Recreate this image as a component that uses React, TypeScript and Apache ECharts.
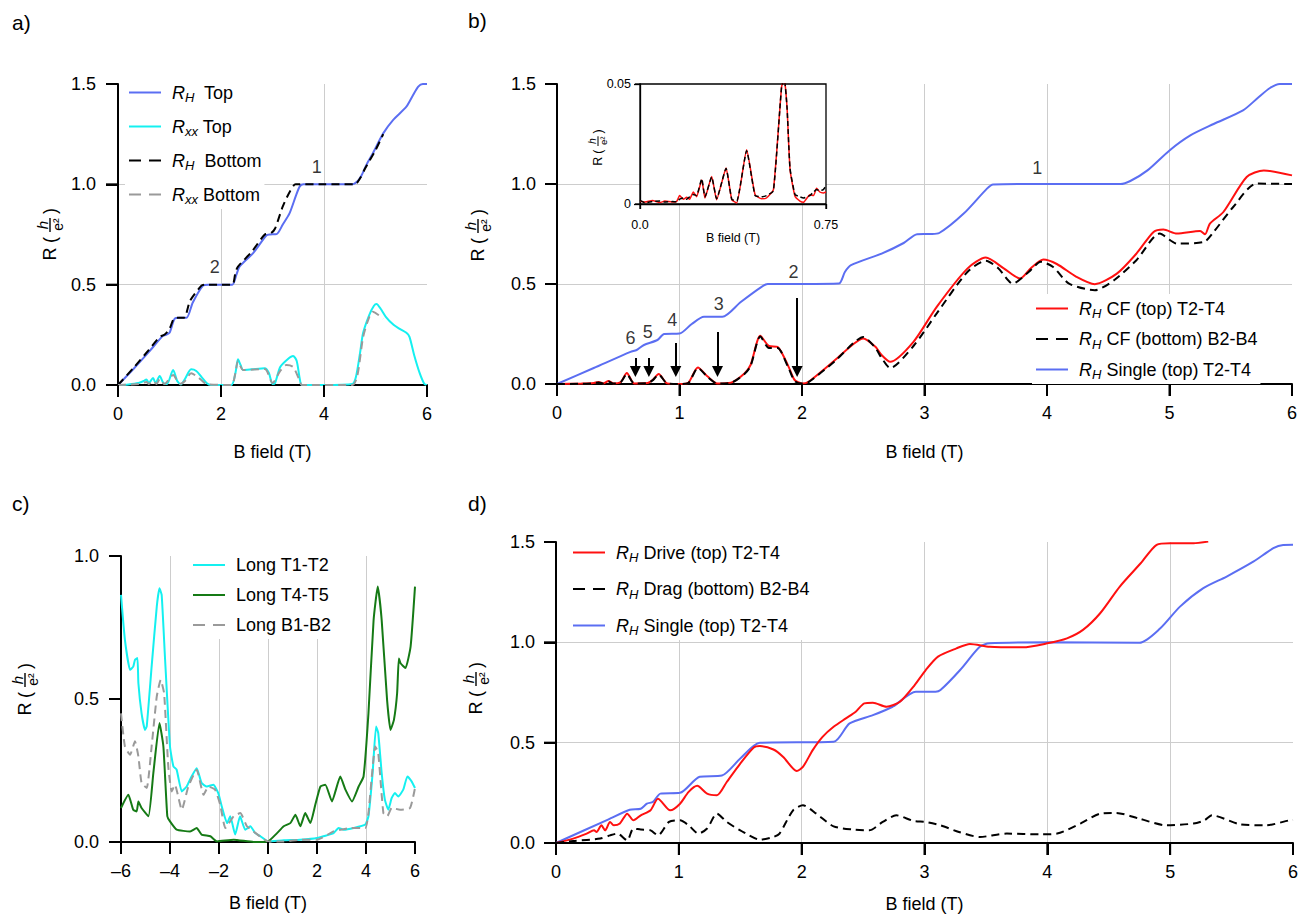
import React, { useEffect, useRef } from 'react';
import * as echarts from 'echarts';

const FONT = "'Liberation Sans', Arial, Helvetica, sans-serif";
const BLUE = '#5b6ef2';
const CYAN = '#14f0f0';
const RED = '#ff1010';
const GREEN = '#157a15';
const GRAY = '#9a9a9a';
const BLACK = '#000000';

// ---------- Panel a ----------
const aRhTop: number[][] = [[0,0],[0.3,0.08],[0.6,0.165],[0.87,0.245],[0.93,0.25],[1.0,0.26],[1.1,0.33],[1.2,0.335],[1.33,0.335],[1.45,0.41],[1.65,0.495],[1.75,0.5],[2.0,0.5],[2.22,0.5],[2.3,0.55],[2.36,0.59],[2.62,0.656],[2.88,0.745],[2.95,0.75],[3.08,0.752],[3.2,0.8],[3.33,0.855],[3.45,0.94],[3.53,0.99],[3.6,1.0],[4.0,1.0],[4.55,1.0],[4.65,1.015],[4.72,1.04],[4.83,1.1],[4.95,1.155],[5.15,1.254],[5.34,1.32],[5.6,1.387],[5.72,1.44],[5.83,1.487],[5.92,1.5],[6,1.5]];
const aRhBot: number[][] = [[0,0],[0.3,0.085],[0.6,0.175],[0.81,0.24],[0.9,0.25],[1.0,0.28],[1.07,0.324],[1.12,0.335],[1.28,0.335],[1.4,0.42],[1.62,0.495],[1.7,0.5],[2.0,0.5],[2.22,0.5],[2.28,0.56],[2.33,0.59],[2.6,0.665],[2.85,0.75],[2.97,0.757],[3.05,0.78],[3.2,0.89],[3.35,0.97],[3.45,1.0],[4.0,1.0],[4.6,1.0],[4.7,1.03],[4.8,1.08],[5.0,1.17],[5.15,1.25]];
const aRxxTop: number[][] = [[0,0],[0.2,0.003],[0.4,0.01],[0.5,0.02],[0.55,0.028],[0.6,0.01],[0.68,0.035],[0.73,0.01],[0.81,0.045],[0.88,0.01],[0.95,0.005],[1.07,0.075],[1.15,0.02],[1.22,0.003],[1.3,0.03],[1.42,0.078],[1.52,0.07],[1.62,0.04],[1.72,0.01],[1.8,0],[2.2,0],[2.28,0.06],[2.33,0.128],[2.38,0.1],[2.43,0.075],[2.6,0.078],[2.85,0.083],[2.93,0.06],[3.0,0.005],[3.05,0.01],[3.15,0.09],[3.3,0.13],[3.4,0.145],[3.47,0.12],[3.53,0.03],[3.57,0],[4.0,0],[4.55,0.005],[4.62,0.04],[4.7,0.16],[4.76,0.26],[4.88,0.35],[4.97,0.395],[5.02,0.404],[5.1,0.38],[5.2,0.34],[5.35,0.3],[5.47,0.28],[5.6,0.26],[5.66,0.24],[5.75,0.15],[5.86,0.058],[5.95,0.005],[6,0]];
const aRxxBot: number[][] = [[0,0],[0.4,0.005],[0.55,0.015],[0.6,0.005],[0.68,0.02],[0.75,0.005],[0.81,0.03],[0.9,0.005],[1.07,0.05],[1.2,0.005],[1.3,0.02],[1.42,0.058],[1.55,0.04],[1.72,0.005],[2.2,0],[2.28,0.06],[2.33,0.12],[2.43,0.075],[2.85,0.08],[3.0,0.01],[3.15,0.07],[3.27,0.1],[3.4,0.09],[3.53,0.02],[3.57,0],[4.55,0],[4.65,0.05],[4.76,0.24],[4.88,0.34],[4.95,0.365],[5.05,0.35],[5.15,0.33]];
const aNumbers: (number | string)[][] = [[3.86,1.086,'1'],[1.88,0.588,'2']];

// ---------- Panel b ----------
const bSingle: number[][] = [[0,0],[0.3,0.08],[0.6,0.161],[0.65,0.17],[0.71,0.195],[0.82,0.22],[0.875,0.25],[1.0,0.252],[1.1,0.3],[1.2,0.336],[1.35,0.336],[1.5,0.41],[1.67,0.486],[1.72,0.5],[2.0,0.5],[2.3,0.502],[2.35,0.56],[2.4,0.594],[2.65,0.652],[2.83,0.705],[2.94,0.749],[3.05,0.75],[3.12,0.755],[3.32,0.852],[3.51,0.977],[3.56,0.998],[4.0,1.0],[4.6,1.0],[4.68,1.015],[4.82,1.068],[5.0,1.168],[5.17,1.243],[5.36,1.3],[5.6,1.368],[5.72,1.43],[5.82,1.48],[5.9,1.5],[6,1.5]];
const bCfTop: number[][] = [[0,0],[0.2,0.002],[0.3,0.005],[0.34,0.01],[0.38,0.003],[0.42,0.015],[0.46,0.003],[0.52,0.01],[0.57,0.055],[0.63,0.003],[0.74,0.005],[0.78,0.02],[0.83,0.05],[0.9,0.003],[1.0,0.0],[1.07,0.005],[1.15,0.083],[1.23,0.037],[1.31,0.003],[1.42,0.007],[1.53,0.053],[1.58,0.095],[1.66,0.241],[1.73,0.19],[1.8,0.186],[1.89,0.087],[1.94,0.02],[2.0,0.003],[2.05,0.01],[2.27,0.12],[2.42,0.2],[2.5,0.228],[2.6,0.186],[2.65,0.145],[2.72,0.111],[2.91,0.211],[3.1,0.386],[3.35,0.577],[3.5,0.632],[3.65,0.577],[3.78,0.527],[3.87,0.58],[3.97,0.622],[4.08,0.6],[4.24,0.536],[4.39,0.499],[4.57,0.552],[4.73,0.652],[4.87,0.76],[4.95,0.772],[5.06,0.752],[5.25,0.765],[5.29,0.749],[5.33,0.802],[5.44,0.86],[5.63,1.035],[5.77,1.068],[6,1.043]];
const bCfBot: number[][] = [[0,0],[0.2,0.001],[0.3,0.004],[0.34,0.008],[0.38,0.002],[0.42,0.012],[0.46,0.002],[0.52,0.008],[0.57,0.05],[0.63,0.003],[0.74,0.004],[0.78,0.018],[0.83,0.047],[0.9,0.003],[1.0,0.0],[1.07,0.004],[1.15,0.08],[1.23,0.035],[1.31,0.002],[1.42,0.006],[1.53,0.05],[1.58,0.09],[1.66,0.238],[1.73,0.18],[1.8,0.18],[1.89,0.08],[1.94,0.015],[2.0,0.002],[2.05,0.008],[2.27,0.115],[2.42,0.205],[2.5,0.235],[2.6,0.18],[2.65,0.13],[2.72,0.08],[2.91,0.19],[3.1,0.353],[3.35,0.56],[3.5,0.616],[3.6,0.58],[3.72,0.502],[3.85,0.56],[3.95,0.611],[4.05,0.585],[4.18,0.502],[4.39,0.469],[4.55,0.52],[4.73,0.619],[4.92,0.752],[5.06,0.702],[5.28,0.71],[5.36,0.76],[5.52,0.885],[5.71,1.002],[6,1.0]];
const bNumbers: (number | string)[][] = [[3.92,1.08,'1'],[1.93,0.56,'2'],[1.32,0.4,'3'],[0.94,0.32,'4'],[0.74,0.26,'5'],[0.6,0.23,'6']];
// arrows: [x, yStart, yEnd]
const bArrows: number[][] = [[0.64,0.13,0.062],[0.75,0.13,0.062],[0.97,0.205,0.062],[1.31,0.26,0.062],[1.96,0.43,0.062]];

// ---------- Inset (b) ----------
const insRed: number[][] = [[0,0.0011],[0.02,0.0008],[0.05,0.0015],[0.08,0.0006],[0.1,0.0012],[0.13,0.0008],[0.148,0.0011],[0.16,0.0035],[0.175,0.002],[0.188,0.0028],[0.2,0.002],[0.215,0.005],[0.228,0.003],[0.249,0.01],[0.262,0.0025],[0.289,0.0115],[0.309,0.0018],[0.347,0.015],[0.37,0.0018],[0.39,0.0004],[0.43,0.0226],[0.464,0.0039],[0.49,0.0022],[0.51,0.0025],[0.538,0.006],[0.571,0.0489],[0.582,0.052],[0.593,0.04],[0.605,0.0143],[0.625,0.0032],[0.645,0.0012],[0.659,0.0007],[0.685,0.0039],[0.7,0.0035],[0.712,0.0066],[0.725,0.005],[0.739,0.0046],[0.75,0.005]];
const insBlack: number[][] = [[0,0.0015],[0.02,0.0005],[0.05,0.001],[0.08,0.0012],[0.1,0.0008],[0.13,0.001],[0.148,0.0009],[0.16,0.002],[0.175,0.0025],[0.188,0.002],[0.2,0.003],[0.215,0.004],[0.228,0.0035],[0.249,0.0105],[0.262,0.003],[0.289,0.0112],[0.309,0.0022],[0.347,0.0148],[0.37,0.002],[0.39,0.0012],[0.43,0.0222],[0.464,0.0035],[0.49,0.003],[0.51,0.0035],[0.538,0.0055],[0.571,0.049],[0.582,0.052],[0.593,0.04],[0.605,0.0148],[0.625,0.004],[0.645,0.003],[0.659,0.0025],[0.685,0.0035],[0.7,0.005],[0.712,0.006],[0.725,0.0055],[0.739,0.006],[0.75,0.0075]];

// ---------- Panel c ----------
const cT1T2: number[][] = [[-6,0.864],[-5.84,0.707],[-5.63,0.602],[-5.5,0.613],[-5.43,0.637],[-5.33,0.643],[-5.29,0.555],[-5.16,0.45],[-5.02,0.392],[-4.95,0.404],[-4.75,0.613],[-4.54,0.823],[-4.43,0.887],[-4.34,0.864],[-4.2,0.637],[-4,0.334],[-3.86,0.264],[-3.73,0.253],[-3.52,0.177],[-3.32,0.194],[-3.12,0.229],[-2.91,0.258],[-2.71,0.206],[-2.5,0.194],[-2.23,0.2],[-2.03,0.171],[-1.89,0.125],[-1.67,0.066],[-1.54,0.09],[-1.34,0.026],[-1.14,0.09],[-0.93,0.043],[-0.72,0.055],[-0.52,0.031],[-0.31,0.02],[0,0.002],[0.64,0.006],[1.32,0.008],[2,0.014],[2.68,0.031],[2.88,0.049],[3.09,0.043],[3.5,0.049],[3.97,0.061],[4.1,0.09],[4.27,0.241],[4.41,0.404],[4.5,0.381],[4.64,0.241],[4.77,0.148],[4.91,0.113],[5.05,0.154],[5.18,0.171],[5.32,0.159],[5.52,0.183],[5.69,0.229],[5.86,0.212],[6,0.189]];
const cT4T5: number[][] = [[-6,0.119],[-5.7,0.165],[-5.5,0.113],[-5.36,0.107],[-5.29,0.142],[-5.16,0.119],[-4.88,0.09],[-4.68,0.241],[-4.43,0.416],[-4.27,0.334],[-4.11,0.09],[-4,0.072],[-3.73,0.043],[-3.18,0.037],[-2.91,0.049],[-2.71,0.026],[-2.35,0.02],[-2.08,0.002],[-1.4,0.008],[-0.59,0],[0,0.002],[0.37,0.031],[0.64,0.055],[0.91,0.066],[1.12,0.095],[1.32,0.055],[1.52,0.101],[1.73,0.066],[1.93,0.13],[2.14,0.194],[2.34,0.2],[2.61,0.142],[2.95,0.229],[3.16,0.183],[3.43,0.142],[3.7,0.194],[3.9,0.229],[4.1,0.45],[4.31,0.776],[4.48,0.893],[4.64,0.776],[4.86,0.497],[5.0,0.392],[5.14,0.427],[5.27,0.52],[5.34,0.642],[5.41,0.625],[5.61,0.608],[5.82,0.683],[6,0.893]];
const cB1B2: number[][] = [[-6,0.45],[-5.84,0.334],[-5.63,0.305],[-5.43,0.352],[-5.29,0.299],[-5.16,0.206],[-4.95,0.189],[-4.75,0.334],[-4.54,0.509],[-4.38,0.567],[-4.24,0.52],[-4.07,0.264],[-3.93,0.177],[-3.8,0.2],[-3.52,0.113],[-3.25,0.194],[-2.91,0.253],[-2.63,0.165],[-2.43,0.194],[-2.16,0.183],[-1.95,0.13],[-1.74,0.049],[-1.4,0.09],[-1.13,0.101],[-0.86,0.055],[-0.59,0.037],[0,0.002],[0.64,0.002],[1.32,0.008],[2,0.008],[2.68,0.037],[3.36,0.049],[3.97,0.049],[4.1,0.101],[4.38,0.334],[4.5,0.311],[4.71,0.101],[4.87,0.09],[5.05,0.119],[5.39,0.113],[5.8,0.119],[6,0.189]];

// ---------- Panel d ----------
const dDrive: number[][] = [[0,0],[0.14,0.022],[0.25,0.047],[0.31,0.063],[0.33,0.055],[0.37,0.088],[0.4,0.063],[0.44,0.105],[0.47,0.088],[0.52,0.097],[0.58,0.146],[0.63,0.113],[0.69,0.138],[0.77,0.163],[0.83,0.221],[0.93,0.163],[1.01,0.196],[1.08,0.255],[1.15,0.285],[1.23,0.246],[1.31,0.238],[1.39,0.304],[1.5,0.396],[1.61,0.476],[1.66,0.483],[1.77,0.466],[1.85,0.429],[1.96,0.359],[2.01,0.379],[2.09,0.463],[2.17,0.529],[2.26,0.579],[2.36,0.621],[2.44,0.654],[2.51,0.696],[2.58,0.699],[2.69,0.679],[2.8,0.704],[2.92,0.787],[3.01,0.862],[3.11,0.929],[3.26,0.97],[3.37,0.992],[3.53,0.978],[3.8,0.975],[4,0.995],[4.16,1.02],[4.29,1.062],[4.43,1.145],[4.59,1.278],[4.76,1.394],[4.89,1.486],[5.0,1.494],[5.19,1.494],[5.31,1.502]];
const dDrag: number[][] = [[0,0],[0.14,0.01],[0.36,0.022],[0.44,0.038],[0.5,0.047],[0.58,0.013],[0.63,0.072],[0.69,0.067],[0.77,0.063],[0.83,0.038],[0.92,0.105],[1.01,0.113],[1.08,0.088],[1.16,0.047],[1.23,0.072],[1.31,0.146],[1.39,0.105],[1.5,0.063],[1.66,0.017],[1.77,0.03],[1.82,0.047],[1.93,0.163],[2.01,0.188],[2.12,0.146],[2.26,0.083],[2.42,0.067],[2.55,0.063],[2.66,0.105],[2.77,0.138],[2.91,0.11],[3.01,0.105],[3.13,0.088],[3.28,0.055],[3.45,0.03],[3.67,0.047],[3.94,0.043],[4.08,0.047],[4.27,0.097],[4.43,0.146],[4.56,0.15],[4.75,0.121],[4.97,0.088],[5.19,0.097],[5.28,0.113],[5.34,0.138],[5.57,0.093],[5.78,0.088],[5.97,0.113],[6,0.115]];
const dSingle: number[][] = [[0,0],[0.41,0.113],[0.6,0.166],[0.69,0.171],[0.74,0.196],[0.79,0.205],[0.85,0.246],[1.01,0.25],[1.17,0.33],[1.35,0.336],[1.5,0.421],[1.66,0.499],[2.26,0.504],[2.39,0.596],[2.58,0.637],[2.74,0.679],[2.93,0.754],[3.09,0.754],[3.13,0.762],[3.29,0.862],[3.45,0.978],[3.53,0.995],[4.0,1.0],[4.75,0.998],[4.92,1.07],[5.08,1.178],[5.27,1.27],[5.46,1.328],[5.68,1.403],[5.84,1.469],[5.92,1.485],[6,1.486]];

// tick values
const xTicksA = [0, 2, 4, 6];
const xTicks1 = [0, 1, 2, 3, 4, 5, 6];
const xTicksC = [-6, -4, -2, 0, 2, 4, 6];
const xTicksIn = [0, 0.75];
const yTicks15 = [0, 0.5, 1.0, 1.5];
const yTicks10 = [0, 0.5, 1.0];
const yTicksIn = [0, 0.05];

const LEGEND_TEXT: Record<string, string> = {
  a_RH_top: '{i|R}{s|H}  Top',
  a_Rxx_top: '{i|R}{s|xx} Top',
  a_RH_bot: '{i|R}{s|H}  Bottom',
  a_Rxx_bot: '{i|R}{s|xx} Bottom',
  b_cf_top: '{i|R}{s|H} CF (top) T2-T4',
  b_cf_bot: '{i|R}{s|H} CF (bottom) B2-B4',
  b_single: '{i|R}{s|H} Single (top) T2-T4',
  'Long T1-T2': 'Long T1-T2',
  'Long T4-T5': 'Long T4-T5',
  'Long B1-B2': 'Long B1-B2',
  d_drive: '{i|R}{s|H} Drive (top) T2-T4',
  d_drag: '{i|R}{s|H} Drag (bottom) B2-B4',
  d_single: '{i|R}{s|H} Single (top) T2-T4',
};

function xAxis(gi: number, min: number, max: number, interval: number, o: any = {}) {
  const fs = o.fs ?? 18;
  const lw = o.lw ?? 2;
  const label: any = { fontSize: fs, fontFamily: FONT, color: '#000', margin: o.margin ?? 20 };
  if (o.fmt) label.formatter = o.fmt;
  const ax: any = {
    type: 'value', gridIndex: gi, min, max, interval,
    name: 'B field (T)', nameLocation: 'middle', nameGap: o.nameGap ?? 58,
    nameTextStyle: { fontSize: fs, fontFamily: FONT, color: '#000' },
    axisLine: { show: true, lineStyle: { color: '#000', width: lw } },
    axisTick: { show: true, length: o.tick ?? 12, lineStyle: { color: '#000', width: lw } },
    axisLabel: label,
    splitLine: { show: o.split ?? true, showMinLine: false, showMaxLine: false, lineStyle: { color: '#cdcdcd', width: 1 } },
  };
  if (o.z !== undefined) ax.z = o.z;
  return ax;
}
function yAxis(gi: number, min: number, max: number, interval: number, o: any = {}) {
  const fs = o.fs ?? 18;
  const lw = o.lw ?? 2;
  const ax: any = {
    type: 'value', gridIndex: gi, min, max, interval,
    axisLine: { show: true, onZero: false, lineStyle: { color: '#000', width: lw } },
    axisTick: { show: true, length: o.tick ?? 12, lineStyle: { color: '#000', width: lw } },
    axisLabel: { fontSize: fs, fontFamily: FONT, color: '#000', margin: o.margin ?? 22, formatter: o.fmt ?? ((v: number) => v.toFixed(1)) },
    splitLine: { show: o.split ?? true, showMinLine: false, showMaxLine: false, lineStyle: { color: '#cdcdcd', width: 1 } },
  };
  if (o.z !== undefined) ax.z = o.z;
  return ax;
}
function line(name: string, gi: number, data: number[][], color: string, o: any = {}) {
  return {
    type: 'line', name, xAxisIndex: gi, yAxisIndex: gi, data,
    showSymbol: false, symbol: 'none', smooth: o.smooth ?? 0.25, silent: true,
    lineStyle: { color, width: o.width ?? 2, type: o.dash ?? 'solid' },
    itemStyle: { color },
    emphasis: { disabled: true },
    z: o.z ?? 2,
    ...(o.extra || {}),
  };
}
function labels(gi: number, data: (number | string)[][]) {
  return {
    type: 'scatter', xAxisIndex: gi, yAxisIndex: gi, data, symbolSize: 1, silent: true, z: 6,
    itemStyle: { color: 'rgba(0,0,0,0)' },
    label: { show: true, position: 'inside', formatter: (p: any) => String(p.value[2]), fontSize: 18, fontFamily: FONT, color: '#000' },
  };
}
// outward tick marks, placed through the axis scales of the grid
function ticks(gi: number, xs: number[], ys: number[], x0: number, y0: number, len: number, w: number) {
  const data = [...xs.map((v) => [0, v]), ...ys.map((v) => [1, v])];
  return {
    type: 'custom', coordinateSystem: 'cartesian2d', xAxisIndex: gi, yAxisIndex: gi,
    data, clip: false, silent: true, z: gi === 4 ? 6 : 3,
    encode: { x: -1, y: -1 } as any,
    renderItem: (_p: any, api: any) => {
      const kind = api.value(0);
      const v = api.value(1);
      if (kind === 0) {
        const p = api.coord([v, y0]);
        return { type: 'line', shape: { x1: p[0], y1: p[1], x2: p[0], y2: p[1] + len }, style: { stroke: '#000', lineWidth: w } };
      }
      const p = api.coord([x0, v]);
      return { type: 'line', shape: { x1: p[0] - len, y1: p[1], x2: p[0], y2: p[1] }, style: { stroke: '#000', lineWidth: w } };
    },
  };
}
function legend(names: string[], left: number, top: number, gap: number, dashed: string[]) {
  return {
    data: names.map((n) => (dashed.includes(n) ? { name: n, lineStyle: { type: [12, 8] } } : { name: n })),
    orient: 'vertical', left, top, itemGap: gap, itemWidth: 32, itemHeight: 14, padding: 3,
    backgroundColor: '#fff', selectedMode: false,
    itemStyle: { opacity: 0 },
    formatter: (n: string) => LEGEND_TEXT[n] ?? n,
    textStyle: {
      fontSize: 18, fontFamily: FONT, color: '#000', lineHeight: 22, padding: [0, 0, 0, 6],
      rich: {
        i: { fontSize: 18, fontStyle: 'italic', fontFamily: FONT, color: '#000', lineHeight: 22 },
        s: { fontSize: 13, fontStyle: 'italic', fontFamily: FONT, color: '#000', lineHeight: 22, padding: [10, 0, 0, 0] },
      },
    },
  };
}
function txt(text: string, x: number, y: number, size: number, italic = false, align = 'center') {
  return {
    type: 'text', x, y, silent: true,
    style: { text, fontSize: size, fontFamily: FONT, fontStyle: italic ? 'italic' : 'normal', fill: '#000', align, verticalAlign: 'middle', textAlign: align, textVerticalAlign: 'middle' },
  };
}
function yTitle(cx: number, cy: number, fs: number) {
  const s = fs / 18;
  return {
    type: 'group', x: cx, y: cy, rotation: Math.PI / 2, silent: true, z: 10,
    children: [
      txt('R', -22 * s, 0, fs),
      txt('(', -8 * s, 0, fs),
      txt('h', 7 * s, -7.5 * s, 15 * s, true),
      { type: 'line', silent: true, shape: { x1: 0, y1: 0, x2: 14 * s, y2: 0 }, style: { stroke: '#000', lineWidth: Math.max(1, 1.4 * s) } },
      txt('e²', 7.5 * s, 8 * s, 14 * s),
      txt(')', 21 * s, 0, fs),
    ],
  };
}

function buildOption(): any {
  const dash = [8, 5];
  return {
    animation: false,
    backgroundColor: '#fff',
    textStyle: { fontFamily: FONT },
    grid: [
      { left: 118, top: 84, width: 309, height: 301 },
      { left: 557, top: 84, width: 735, height: 300 },
      { left: 121, top: 556, width: 294, height: 286 },
      { left: 556, top: 542, width: 737, height: 301 },
      { left: 640, top: 84, width: 186, height: 120, show: true, backgroundColor: '#fff', borderColor: '#000', borderWidth: 1.3, z: 3 },
    ],
    xAxis: [
      xAxis(0, 0, 6, 2, { nameGap: 58 }),
      xAxis(1, 0, 6, 1, { nameGap: 59 }),
      xAxis(2, -6, 6, 2, { nameGap: 52, fmt: (v: number) => (v < 0 ? '\u2013' + Math.abs(v) : String(v)) }),
      xAxis(3, 0, 6, 1, { nameGap: 52 }),
      xAxis(4, 0, 0.75, 0.75, { fs: 12.5, lw: 1.3, tick: 5, margin: 14, nameGap: 26, split: false, z: 4, fmt: (v: number) => (v === 0 ? '0.0' : '0.75') }),
    ],
    yAxis: [
      yAxis(0, 0, 1.5, 0.5),
      yAxis(1, 0, 1.5, 0.5, { margin: 21 }),
      yAxis(2, 0, 1.0, 0.5, { split: false }),
      yAxis(3, 0, 1.5, 0.5, { margin: 21 }),
      yAxis(4, 0, 0.05, 0.05, { fs: 12.5, lw: 1.3, tick: 6, margin: 9, split: false, z: 4, fmt: (v: number) => (v === 0 ? '0' : '0.05') }),
    ],
    legend: [
      legend(['a_RH_top', 'a_Rxx_top', 'a_RH_bot', 'a_Rxx_bot'], 125, 78, 11, ['a_RH_bot', 'a_Rxx_bot']),
      legend(['b_cf_top', 'b_cf_bot', 'b_single'], 1032, 294, 7.5, ['b_cf_bot']),
      legend(['Long T1-T2', 'Long T4-T5', 'Long B1-B2'], 189, 551, 8, ['Long B1-B2']),
      legend(['d_drive', 'd_drag', 'd_single'], 569, 538, 13.5, ['d_drag']),
    ],
    series: [
      // ticks
      ticks(0, xTicksA, yTicks15, 0, 0, 12, 2),
      ticks(1, xTicks1, yTicks15, 0, 0, 12, 2),
      ticks(2, xTicksC, yTicks10, -6, 0, 12, 2),
      ticks(3, xTicks1, yTicks15, 0, 0, 12, 2),
      ticks(4, xTicksIn, yTicksIn, 0, 0, 5, 1.3),
      // a
      line('a_RH_top', 0, aRhTop, BLUE),
      line('a_Rxx_top', 0, aRxxTop, CYAN),
      line('a_RH_bot', 0, aRhBot, BLACK, { dash }),
      line('a_Rxx_bot', 0, aRxxBot, GRAY, { dash }),
      labels(0, aNumbers),
      // b
      line('b_single', 1, bSingle, BLUE),
      line('b_cf_top', 1, bCfTop, RED, {
        extra: {
          markLine: {
            silent: true, animation: false, symbol: ['none', 'triangle'], symbolSize: 11,
            lineStyle: { color: '#000', width: 2, type: 'solid' },
            itemStyle: { color: '#000' },
            label: { show: false },
            emphasis: { disabled: true },
            data: bArrows.map((a) => [{ coord: [a[0], a[1]] }, { coord: [a[0], a[2]] }]),
          },
        },
      }),
      line('b_cf_bot', 1, bCfBot, BLACK, { dash }),
      labels(1, bNumbers),
      // inset
      line('ins_red', 4, insRed, RED, { width: 1.5, z: 5, smooth: 0.15 }),
      line('ins_black', 4, insBlack, BLACK, { width: 1.5, z: 5, smooth: 0.15, dash: [5, 3] }),
      // c
      line('Long T1-T2', 2, cT1T2, CYAN, { smooth: 0.15 }),
      line('Long T4-T5', 2, cT4T5, GREEN, { smooth: 0.15 }),
      line('Long B1-B2', 2, cB1B2, GRAY, { smooth: 0.15, dash }),
      // d
      line('d_single', 3, dSingle, BLUE),
      line('d_drive', 3, dDrive, RED),
      line('d_drag', 3, dDrag, BLACK, { dash }),
    ],
    graphic: [
      txt('a)', 12, 22, 21, false, 'left'),
      txt('b)', 468, 20, 21, false, 'left'),
      txt('c)', 12, 503, 21, false, 'left'),
      txt('d)', 468, 503, 21, false, 'left'),
      yTitle(50, 232, 18),
      yTitle(478, 233, 18),
      yTitle(25, 687, 18),
      yTitle(476, 686, 18),
      yTitle(598, 146, 12.5),
    ],
  };
}

export default function App() {
  const ref = useRef<HTMLDivElement>(null);
  useEffect(() => {
    if (!ref.current) return;
    const chart = echarts.init(ref.current, null, { renderer: 'svg' });
    chart.setOption(buildOption());
    return () => chart.dispose();
  }, []);
  return (
    <div
      ref={ref}
      style={{ position: 'absolute', left: 0, top: 0, width: '1309px', height: '918px', background: '#fff' }}
    />
  );
}
